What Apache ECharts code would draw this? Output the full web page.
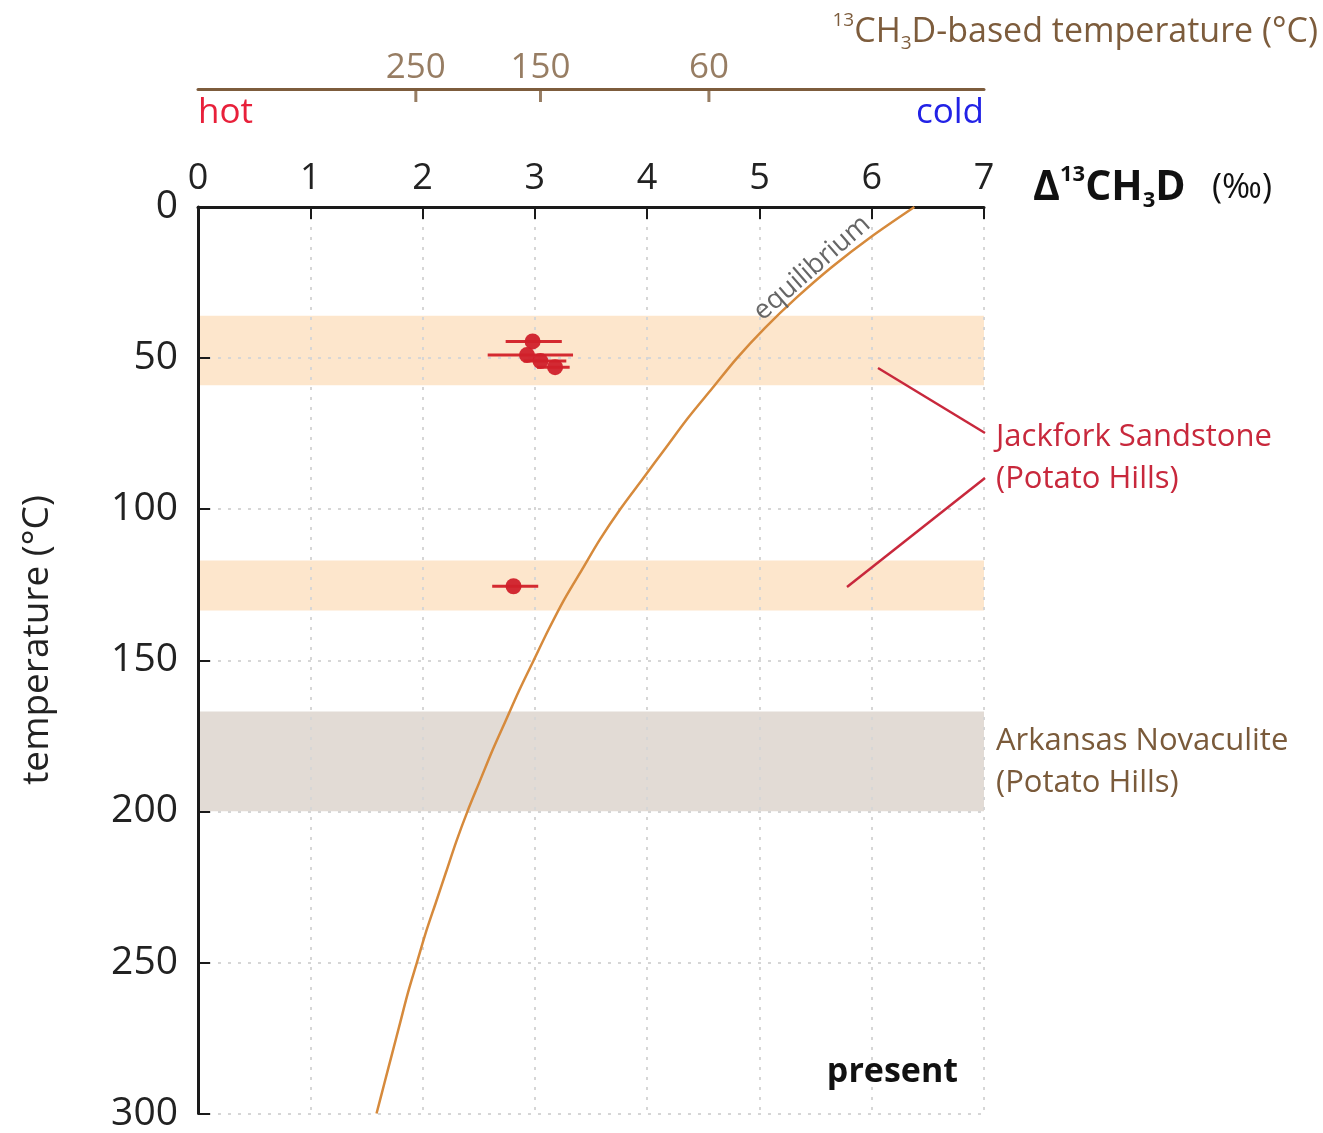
<!DOCTYPE html>
<html>
<head>
<meta charset="utf-8">
<title>clumped methane temperature</title>
<script src="https://cdn.jsdelivr.net/npm/echarts@6/dist/echarts.min.js"></script>
<style>
  html, body { margin: 0; padding: 0; background: #fff; }
  #chart { width: 1323px; height: 1133px; }
</style>
</head>
<body>
<div id="chart"></div>
<script>
// equilibrium curve, every 10 °C: temperature (°C) -> Δ13CH3D (‰)
var eqTemp = [0, 10, 20, 30, 40, 50, 60, 70, 80, 90, 100, 110, 120, 130, 140, 150, 160, 170, 180, 190,
              200, 210, 220, 230, 240, 250, 260, 270, 280, 290, 300];
var eqDelta = [6.38, 5.99, 5.64, 5.33, 5.05, 4.80, 4.58, 4.36, 4.16, 3.96, 3.76, 3.58, 3.42, 3.26, 3.12, 2.99,
               2.86, 2.74, 2.62, 2.51, 2.40, 2.30, 2.21, 2.12, 2.03, 1.95, 1.87, 1.80, 1.73, 1.66, 1.59];

// samples with horizontal error bars
var sampleDelta = [2.98, 2.93, 3.05, 3.18, 2.81];
var sampleTemp = [44.5, 49, 51, 53, 125.5];
var sampleLo = [2.74, 2.58, 2.90, 3.02, 2.62];
var sampleHi = [3.24, 3.34, 3.28, 3.31, 3.03];

// temperature ranges [from, to]
var jackforkBands = [[36, 59], [117, 133.5]];
var arkansasBands = [[167, 200]];

// upper scale: 13CH3D-based temperature
var topTickLabels = ['250', '150', '60'];
var topTickDelta = [1.94, 3.05, 4.55];

var FONT = '"Open Sans", "Noto Sans", sans-serif';
var BROWN = '#7d5c3c';

var chart = echarts.init(document.getElementById('chart'));

function bandRender(color) {
    return function (params, api) {
        var p0 = api.coord([0, api.value(0)]);
        var p1 = api.coord([7, api.value(1)]);
        return {
            type: 'rect',
            shape: { x: p0[0], y: p0[1], width: p1[0] - p0[0], height: p1[1] - p0[1] },
            style: { fill: color }
        };
    };
}

function label(x, y, text, color, size, align, extra) {
    var el = {
        type: 'text', x: x, y: y, z: 100,
        style: {
            text: text, fill: color, fontSize: size, fontFamily: FONT,
            textAlign: align, textVerticalAlign: 'middle', align: align, verticalAlign: 'middle'
        }
    };
    if (extra) {
        for (var k in extra) el[k] = extra[k];
    }
    return el;
}

var eqData = eqTemp.map(function (t, i) { return [eqDelta[i], t]; });
var sampleData = sampleTemp.map(function (t, i) { return [sampleDelta[i], t]; });
var errData = sampleTemp.map(function (t, i) { return [sampleLo[i], sampleHi[i], t]; });
var topTicks = topTickDelta.map(function (d, i) { return [d, 1, topTickLabels[i]]; });

var gridLine = { show: true, lineStyle: { type: [3, 7], color: '#d6d6d6', width: 2 } };

chart.setOption({
    animation: false,
    grid: [
        { left: 198, top: 207, width: 786, height: 910 },
        { left: 198, top: 89, width: 786, height: 20 }
    ],
    xAxis: [{
        gridIndex: 0,
        type: 'value',
        position: 'top',
        min: 0,
        max: 7,
        interval: 1,
        axisLine: { onZero: false, lineStyle: { color: '#1a1a1a', width: 3 } },
        axisTick: { inside: true, length: 12, lineStyle: { color: '#1a1a1a', width: 2 } },
        axisLabel: { margin: 10, fontSize: 36, color: '#222', fontFamily: FONT },
        splitLine: gridLine
    }, {
        gridIndex: 1,
        type: 'value',
        position: 'top',
        min: 0,
        max: 7,
        axisLine: { onZero: false, lineStyle: { color: BROWN, width: 3 } },
        axisTick: { show: false },
        axisLabel: { show: false },
        splitLine: { show: false }
    }],
    yAxis: [{
        gridIndex: 0,
        type: 'value',
        inverse: true,
        min: 0,
        max: 300,
        interval: 50,
        axisLine: { onZero: false, lineStyle: { color: '#1a1a1a', width: 3 } },
        axisTick: { inside: true, length: 12, lineStyle: { color: '#1a1a1a', width: 2 } },
        axisLabel: { margin: 20, fontSize: 39, color: '#222', fontFamily: FONT },
        splitLine: gridLine
    }, {
        gridIndex: 1,
        type: 'value',
        min: 0,
        max: 1,
        show: false
    }],
    series: [{
        type: 'custom',
        z: -1,
        renderItem: bandRender('#fde6cc'),
        encode: { y: [0, 1] },
        data: jackforkBands,
        silent: true
    }, {
        type: 'custom',
        z: -1,
        renderItem: bandRender('#e2dbd5'),
        encode: { y: [0, 1] },
        data: arkansasBands,
        silent: true
    }, {
        name: 'equilibrium',
        type: 'line',
        data: eqData,
        smooth: 0.3,
        showSymbol: false,
        lineStyle: { color: '#d68a3c', width: 2.5 },
        z: 3
    }, {
        type: 'custom',
        renderItem: function (params, api) {
            var a = api.coord([api.value(0), api.value(2)]);
            var b = api.coord([api.value(1), api.value(2)]);
            return {
                type: 'line',
                shape: { x1: a[0], y1: a[1], x2: b[0], y2: b[1] },
                style: { stroke: '#d42a30', lineWidth: 3 }
            };
        },
        encode: { x: [0, 1], y: 2 },
        data: errData,
        z: 4
    }, {
        type: 'scatter',
        data: sampleData,
        symbolSize: 16,
        itemStyle: { color: '#d0202a', opacity: 0.95 },
        z: 5
    }, {
        type: 'scatter',
        xAxisIndex: 1,
        yAxisIndex: 1,
        data: topTicks,
        symbol: 'rect',
        symbolSize: [3, 13],
        symbolOffset: [0, 6.5],
        itemStyle: { color: BROWN },
        label: {
            show: true,
            position: 'top',
            distance: 3,
            formatter: function (p) { return p.value[2]; },
            fontSize: 35,
            color: BROWN,
            fontFamily: FONT
        }
    }],
    graphic: [
        {
            type: 'text', x: 1318, y: 32, z: 100,
            style: {
                text: '{s|13}{n|CH}{b|3}{n|D-based temperature (°C)}',
                textAlign: 'right', textVerticalAlign: 'middle', align: 'right', verticalAlign: 'middle',
                rich: {
                    n: { fontSize: 34, fontFamily: FONT, fill: BROWN, color: BROWN, lineHeight: 42 },
                    s: { fontSize: 19, fontFamily: FONT, fill: BROWN, color: BROWN, lineHeight: 24, verticalAlign: 'top' },
                    b: { fontSize: 19, fontFamily: FONT, fill: BROWN, color: BROWN, lineHeight: 20, verticalAlign: 'bottom' }
                }
            }
        },
        label(198, 113, 'hot', '#e8203a', 35, 'left'),
        label(984, 113, 'cold', '#2222e6', 35, 'right'),
        {
            type: 'text', x: 1033, y: 188, z: 100,
            style: {
                text: '{b|Δ}{s|13}{b|CH}{u|3}{b|D}{n|   (‰)}',
                textAlign: 'left', textVerticalAlign: 'middle', align: 'left', verticalAlign: 'middle',
                rich: {
                    b: { fontSize: 41, fontWeight: 'bold', fontFamily: FONT, fill: '#111', color: '#111', lineHeight: 48 },
                    s: { fontSize: 22, fontWeight: 'bold', fontFamily: FONT, fill: '#111', color: '#111', lineHeight: 26, verticalAlign: 'top' },
                    u: { fontSize: 22, fontWeight: 'bold', fontFamily: FONT, fill: '#111', color: '#111', lineHeight: 22, verticalAlign: 'bottom' },
                    n: { fontSize: 34, fontFamily: FONT, fill: '#111', color: '#111', lineHeight: 48 }
                }
            }
        },
        label(37, 640, 'temperature (°C)', '#222', 37, 'center', { rotation: Math.PI / 2 }),
        label(812, 268, 'equilibrium', '#666', 27, 'center', { rotation: 41 * Math.PI / 180 }),
        {
            type: 'line', z: 100, shape: { x1: 878, y1: 368, x2: 985, y2: 433 },
            style: { stroke: '#c8283c', lineWidth: 2.5 }
        },
        {
            type: 'line', z: 100, shape: { x1: 847, y1: 587, x2: 985, y2: 478 },
            style: { stroke: '#c8283c', lineWidth: 2.5 }
        },
        label(996, 437, 'Jackfork Sandstone', '#c8283c', 31, 'left'),
        label(996, 479, '(Potato Hills)', '#c8283c', 31, 'left'),
        label(996, 741, 'Arkansas Novaculite', '#7a5a3a', 31, 'left'),
        label(996, 783, '(Potato Hills)', '#7a5a3a', 31, 'left'),
        {
            type: 'text', x: 958, y: 1072, z: 100,
            style: {
                text: 'present', fill: '#111', fontSize: 34, fontWeight: 'bold', fontFamily: FONT,
                textAlign: 'right', textVerticalAlign: 'middle', align: 'right', verticalAlign: 'middle'
            }
        }
    ]
});
</script>
</body>
</html>
